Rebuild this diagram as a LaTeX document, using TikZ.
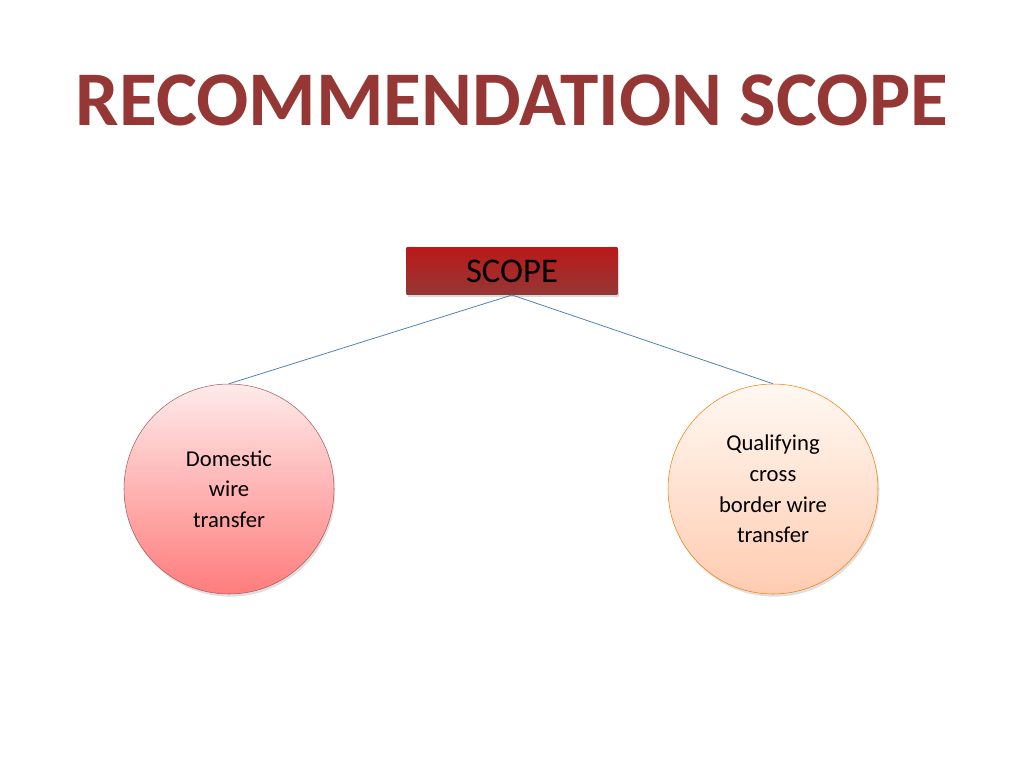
\documentclass[tikz,border=0pt]{standalone}
\usepackage{fontspec}
\setmainfont{Carlito}
\usetikzlibrary{shadows}
\definecolor{titlered}{HTML}{953735}
\definecolor{linkblue}{HTML}{4F81BD}
\begin{document}
\begin{tikzpicture}[x=0.75pt,y=-0.75pt,
  bub/.style={circle,minimum size=157.5pt,inner sep=0pt,align=center,font=\fontsize{17}{23}\selectfont,drop shadow={opacity=0.25,shadow xshift=1pt,shadow yshift=-2pt}},
  link/.style={draw=linkblue,line width=0.6pt}]
\useasboundingbox (0,0) rectangle (1024,768);
\node (title) at (512,100) {\fontsize{58}{60}\selectfont\bfseries\color{titlered}RECOMMENDATION SCOPE};
\node (scope) [minimum width=158pt,minimum height=35pt,inner sep=0pt,top color=red!70!black!90,bottom color=titlered,draw=none,
  drop shadow={opacity=0.3,shadow xshift=1pt,shadow yshift=-2pt},font=\fontsize{26}{28}\selectfont] at (512,271) {SCOPE};
\node (dom) [bub,draw=titlered!80,top color=red!8,bottom color=red!35!pink] at (229,489) {Domestic\\wire\\transfer};
\node (qual) [bub,draw=orange!80!brown,top color=orange!5,bottom color=orange!35!pink!60] at (773,489) {Qualifying\\cross\\border wire\\transfer};
\coordinate (s) at (512,295);
\draw[link] (s) -- (dom.north);
\draw[link] (s) -- (qual.north);
\end{tikzpicture}
\end{document}
